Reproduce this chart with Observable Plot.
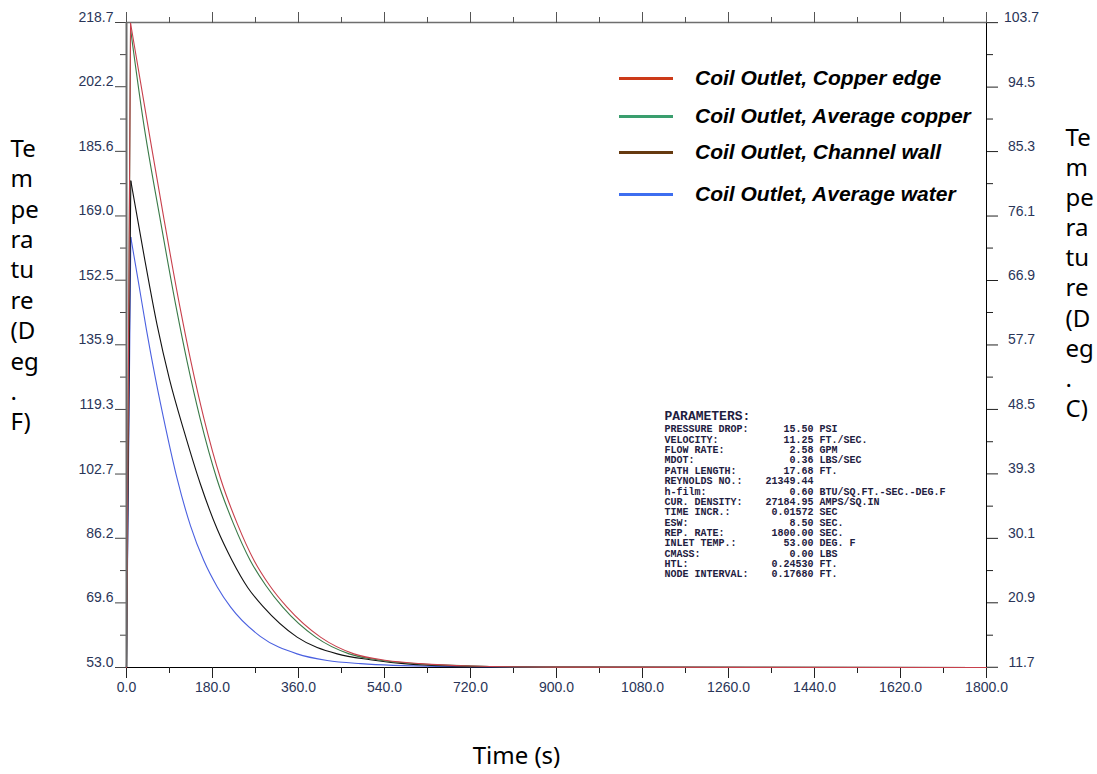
<!DOCTYPE html>
<html><head><meta charset="utf-8">
<script src="https://cdn.jsdelivr.net/npm/d3@7"></script>
<script src="https://cdn.jsdelivr.net/npm/@observablehq/plot@0.6"></script>
<style>
body{margin:0;background:#fff;}
#wrap{position:relative;width:1097px;height:774px;overflow:hidden;}
.lgline{position:absolute;height:3px;width:54px;left:619px;}
.lgtext{position:absolute;left:695px;font:italic bold 21px "Liberation Sans",Arial,sans-serif;line-height:24px;color:#000;white-space:nowrap;}
</style></head><body>
<div id="wrap"><div id="chart"></div><div id="legend"></div></div>
<script>
// ---- data ----
const legendNames = ["Coil Outlet, Copper edge","Coil Outlet, Average copper","Coil Outlet, Channel wall","Coil Outlet, Average water"];
const legendColors = ["#cc3a18","#3a9e6e","#663a10","#3d6ef0"];
const curveColors = ["#c8404c","#3a7a48","#111111","#4a60e0"];

const redT   = [0, 8.5, 43, 78, 112, 135, 162, 197, 232, 267, 300, 336, 406, 476, 545, 615, 720, 900, 1800];
const redV   = [53, 218.5, 193.5, 168.5, 145.5, 131.5, 117.0, 101.5, 89.9, 80.5, 74.0, 68.5, 60.8, 56.5, 54.8, 54.0, 53.4, 53.1, 53.0];
const greenT = [0, 8.5, 35, 70, 104, 127, 154, 189, 224, 259, 292, 327, 396, 466, 535, 605, 720, 900, 1800];
const greenV = [53, 217.0, 193.5, 168.5, 145.5, 131.5, 117.0, 101.5, 89.9, 80.5, 74.0, 68.5, 60.8, 56.5, 54.8, 54.0, 53.4, 53.1, 53.0];
const blackT = [0, 9, 36, 64, 90, 120, 155, 190, 221, 254, 287, 357, 441, 510, 580, 720, 900, 1800];
const blackV = [53, 178.0, 159.3, 141.0, 127.0, 113.9, 100.0, 88.5, 80.5, 73.5, 68.5, 60.8, 56.5, 55.0, 54.0, 53.3, 53.1, 53.0];
const blueT  = [0, 9, 25, 42, 61, 82, 106, 134, 162, 190, 218, 280, 357, 420, 490, 650, 900, 1800];
const blueV  = [53, 163.5, 152.0, 139.6, 127.0, 114.5, 101.5, 89.4, 80.4, 73.7, 68.5, 61.0, 56.5, 54.8, 54.0, 53.3, 53.05, 53.0];

const leftTickLabels  = ["53.0","69.6","86.2","102.7","119.3","135.9","152.5","169.0","185.6","202.2","218.7"];
const rightTickLabels = ["11.7","20.9","30.1","39.3","48.5","57.7","66.9","76.1","85.3","94.5","103.7"];
const xTickLabels = ["0.0","180.0","360.0","540.0","720.0","900.0","1080.0","1260.0","1440.0","1620.0","1800.0"];

const leftTitleLines  = ["Te","m","pe","ra","tu","re","(D","eg",".","F)"];
const rightTitleLines = ["Te","m","pe","ra","tu","re","(D","eg",".","C)"];
const xTitle = "Time (s)";

const paramHeading = "PARAMETERS:";
const paramLabels = ["PRESSURE DROP:","VELOCITY:","FLOW RATE:","MDOT:","PATH LENGTH:","REYNOLDS NO.:","h-film:","CUR. DENSITY:","TIME INCR.:","ESW:","REP. RATE:","INLET TEMP.:","CMASS:","HTL:","NODE INTERVAL:"];
const paramValues = ["15.50","11.25","2.58","0.36","17.68","21349.44","0.60","27184.95","0.01572","8.50","1800.00","53.00","0.00","0.24530","0.17680"];
const paramUnits  = ["PSI","FT./SEC.","GPM","LBS/SEC","FT.","","BTU/SQ.FT.-SEC.-DEG.F","AMPS/SQ.IN","SEC","SEC.","SEC.","DEG. F","LBS","FT.","FT."];

// ---- derived ----
const series = [
  {t: blueT, v: blueV, c: curveColors[3]},
  {t: blackT, v: blackV, c: curveColors[2]},
  {t: greenT, v: greenV, c: curveColors[1]},
  {t: redT, v: redV, c: curveColors[0]}
];
const leftTicks = leftTickLabels.map(Number);
const rightTicks = rightTickLabels.map(c => Number(c) * 1.8 + 32);
const yMinor = leftTicks.slice(1).map((v, i) => (v + leftTicks[i]) / 2);
const xMajor = xTickLabels.map(Number);
const xMinor = xMajor.slice(1).map((v, i) => (v + xMajor[i]) / 2);
const navy = "#2a3558";
const ink = "#1e2040";

const curveMarks = series.flatMap(s => {
  const pts = s.t.map((t, i) => [t, s.v[i]]);
  return [
    Plot.line(pts.slice(0, 2), {x: d => d[0], y: d => d[1], stroke: s.c, strokeWidth: 1.1}),
    Plot.line(pts.slice(1), {x: d => d[0], y: d => d[1], stroke: s.c, strokeWidth: 1.1, curve: "monotone-x"})
  ];
});

const chart = Plot.plot({
  width: 1097, height: 774,
  marginLeft: 126, marginRight: 111, marginTop: 22, marginBottom: 107,
  style: {fontFamily: "Liberation Sans, Arial, sans-serif", background: "white"},
  x: {domain: [0, 1800]},
  y: {domain: [53, 218.7]},
  marks: [
    Plot.ruleY([218.7], {stroke: "#6e6e6e", strokeWidth: 1.5}),
    Plot.ruleY([53], {stroke: "#000", strokeWidth: 1}),
    Plot.ruleX([1800], {stroke: "#000", strokeWidth: 1}),
    Plot.axisX(xMajor, {anchor: "bottom", tickSize: 11, tickFormat: () => "", label: null, stroke: "#222"}),
    Plot.axisX(xMinor, {anchor: "bottom", tickSize: 6, tickFormat: () => "", label: null, stroke: "#222"}),
    Plot.axisX(xMajor, {anchor: "top", tickSize: 11, tickFormat: () => "", label: null, stroke: "#555"}),
    Plot.axisX(xMinor, {anchor: "top", tickSize: 6, tickFormat: () => "", label: null, stroke: "#555"}),
    Plot.axisY(leftTicks, {anchor: "left", tickSize: 11, tickFormat: () => "", label: null, stroke: "#444"}),
    Plot.axisY(yMinor, {anchor: "left", tickSize: 6, tickFormat: () => "", label: null, stroke: "#444"}),
    Plot.axisY(rightTicks, {anchor: "right", tickSize: 11, tickFormat: () => "", label: null, stroke: "#222"}),
    Plot.axisY(yMinor, {anchor: "right", tickSize: 6, tickFormat: () => "", label: null, stroke: "#222"}),
    Plot.text(xMajor, {x: d => d, text: (d, i) => xTickLabels[i], frameAnchor: "bottom", lineAnchor: "top", dy: 15, fontSize: 14, fill: navy}),
    Plot.text(leftTicks, {y: d => d, text: (d, i) => leftTickLabels[i], frameAnchor: "left", textAnchor: "end", dx: -13, dy: -5, fontSize: 14, fill: navy}),
    Plot.text(rightTicks, {y: d => d, text: (d, i) => rightTickLabels[i], frameAnchor: "right", textAnchor: "middle", dx: 35, dy: -5, fontSize: 14, fill: navy}),
    ...curveMarks,
    Plot.ruleX([0], {stroke: "#6a6a6a", strokeWidth: 2}),
    Plot.text([leftTitleLines.join("\n")], {text: d => d, frameAnchor: "top-left", textAnchor: "start", lineAnchor: "top", dx: -116, dy: 113, fontSize: 24, lineHeight: 1.265, fontFamily: "Noto Sans", fill: "#000"}),
    Plot.text([rightTitleLines.join("\n")], {text: d => d, frameAnchor: "top-right", textAnchor: "start", lineAnchor: "top", dx: 79, dy: 102, fontSize: 24, lineHeight: 1.255, fontFamily: "Noto Sans", fill: "#000"}),
    Plot.text([xTitle], {text: d => d, frameAnchor: "bottom", dx: -40, dy: 96, fontSize: 24, fontFamily: "Noto Sans", fill: "#000"}),
    Plot.text([paramHeading], {text: d => d, frameAnchor: "top-left", textAnchor: "start", dx: 538, dy: 388.5, fontSize: 13, fontWeight: "bold", fontFamily: "Liberation Mono", fill: ink}),
    Plot.text([paramLabels.join("\n")], {text: d => d, frameAnchor: "top-left", textAnchor: "start", dx: 538, dy: 402.5, fontSize: 10, lineHeight: 1.036, fontWeight: "bold", fontFamily: "Liberation Mono", fill: ink}),
    Plot.text([paramValues.join("\n")], {text: d => d, frameAnchor: "top-left", textAnchor: "end", dx: 687, dy: 402.5, fontSize: 10, lineHeight: 1.036, fontWeight: "bold", fontFamily: "Liberation Mono", fill: ink}),
    Plot.text([paramUnits.join("\n")], {text: d => d, frameAnchor: "top-left", textAnchor: "start", dx: 693, dy: 402.5, fontSize: 10, lineHeight: 1.036, fontWeight: "bold", fontFamily: "Liberation Mono", fill: ink})
  ]
});
document.getElementById("chart").appendChild(chart);

const legendY = [78, 116, 152, 194];
const lg = document.getElementById("legend");
legendNames.forEach((name, i) => {
  const l = document.createElement("div");
  l.className = "lgline";
  l.style.top = (legendY[i] - 1.5) + "px";
  l.style.background = legendColors[i];
  lg.appendChild(l);
  const t = document.createElement("div");
  t.className = "lgtext";
  t.style.top = (legendY[i] - 12) + "px";
  t.textContent = name;
  lg.appendChild(t);
});
</script>
</body></html>
